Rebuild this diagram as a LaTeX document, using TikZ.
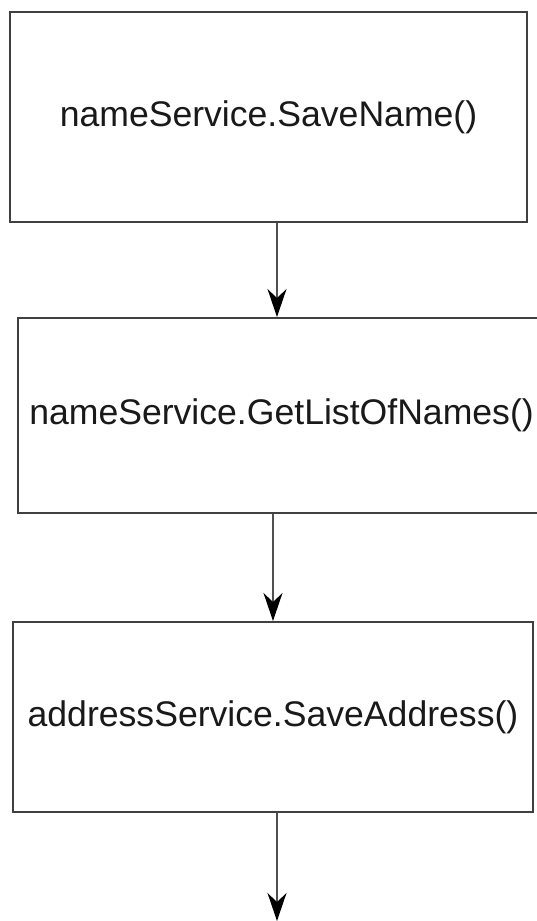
\documentclass[tikz,border=0pt]{standalone}
\usepackage{fontspec}
\setmainfont{Liberation Sans}
\usetikzlibrary{arrows.meta}
\definecolor{boxline}{HTML}{404040}
\definecolor{arrline}{HTML}{505050}
\tikzset{
  stepbox/.style={draw=boxline, line width=2pt, rectangle, inner sep=0pt, fill=white,
    font=\fontsize{35.6}{42}\selectfont, text=black!90},
  flowarrow/.style={draw=arrline, line width=1.6pt,
    -{Stealth[length=28pt, width=19pt, inset=9pt, color=black]}}
}
\begin{document}
\begin{tikzpicture}[x=1pt,y=1pt]
\useasboundingbox (0,0) rectangle (536,-921);
\fill[white] (0,0) rectangle (536,-921);
\node[stepbox, minimum width=517pt, minimum height=210pt] (b1) at (268.5,-117) {\raisebox{3pt}{nameService.SaveName()}};
\node[stepbox, minimum width=527pt, minimum height=195pt] (b2) at (281.5,-415.5) {nameService.GetListOfNames()};
\node[stepbox, minimum width=520pt, minimum height=190pt] (b3) at (273,-717) {addressService.SaveAddress()};
\coordinate (x1) at (277,0);
\coordinate (x2) at (273,0);
\coordinate (x3) at (277,0);
\coordinate (fin) at (277,-921);
\draw[flowarrow] (b1.south -| x1) -- (b2.north -| x1);
\draw[flowarrow] (b2.south -| x2) -- (b3.north -| x2);
\draw[flowarrow] (b3.south -| x3) -- (fin);
\end{tikzpicture}
\end{document}
